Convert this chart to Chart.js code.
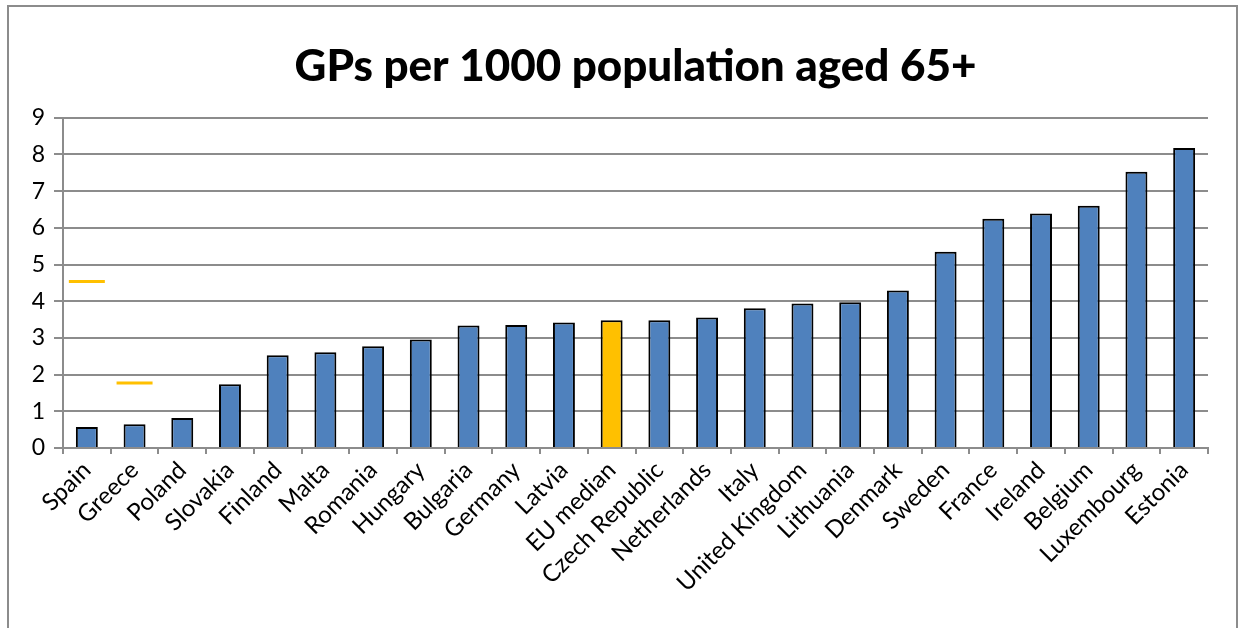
<!DOCTYPE html>
<html>
<head>
<meta charset="utf-8">
<script src="https://cdn.jsdelivr.net/npm/chart.js@4"></script>
<style>
  html, body { margin: 0; padding: 0; background: #fff; }
  #wrap { width: 1243px; height: 628px; position: relative; }
</style>
</head>
<body>
<div id="wrap"><canvas id="gp"></canvas></div>
<script>
/* GPs per 1000 population aged 65+ */
const countries = ['Spain', 'Greece', 'Poland', 'Slovakia', 'Finland', 'Malta', 'Romania', 'Hungary',
	'Bulgaria', 'Germany', 'Latvia', 'EU median', 'Czech Republic', 'Netherlands', 'Italy',
	'United Kingdom', 'Lithuania', 'Denmark', 'Sweden', 'France', 'Ireland', 'Belgium',
	'Luxembourg', 'Estonia'];
const gpValues = [0.57, 0.65, 0.82, 1.74, 2.53, 2.61, 2.77, 2.96, 3.34, 3.35, 3.42, 3.48,
	3.48, 3.56, 3.81, 3.94, 3.97, 4.29, 5.35, 6.25, 6.39, 6.6, 7.53, 8.18];
// extra markers shown for Spain and Greece only
const altValues = [4.54, 1.77, null, null, null, null, null, null, null, null, null, null,
	null, null, null, null, null, null, null, null, null, null, null, null];
const yTicks = [0, 1, 2, 3, 4, 5, 6, 7, 8, 9];

const blue = '#4F81BD';
const gold = '#FFC000';
var barColors = countries.map(function(c) { return c === 'EU median' ? gold : blue; });

// outer frame round the whole chart
const frame = {
	id: 'frame',
	afterDraw(chart) {
		var ctx = chart.ctx;
		ctx.save();
		ctx.strokeStyle = '#8c8c8c';
		ctx.lineWidth = 2;
		ctx.strokeRect(8, 6, 1229, 640);
		ctx.restore();
	}
};

var ctx = document.getElementById('gp');
new Chart(ctx, {
	type: 'bar',
	data: {
		labels: countries,
		datasets: [{
			type: 'line',
			data: altValues,
			showLine: false,
			pointStyle: 'line',
			pointRadius: 18,
			pointHoverRadius: 18,
			pointBorderWidth: 3,
			borderColor: gold,
			backgroundColor: gold,
			order: 0
		}, {
			data: gpValues,
			backgroundColor: barColors,
			borderColor: '#000',
			borderWidth: 2,
			barPercentage: 0.46,
			categoryPercentage: 1,
			order: 1
		}]
	},
	options: {
		responsive: true,
		maintainAspectRatio: false,
		animation: false,
		layout: { padding: { left: 18, right: 35, top: 0, bottom: 0 } },
		plugins: {
			legend: { display: false },
			tooltip: { enabled: false },
			title: {
				display: true,
				fullSize: false,
				text: 'GPs per 1000 population aged 65+',
				color: '#000',
				font: { family: 'Lato', size: 44, weight: '900' },
				padding: { top: 40, bottom: 25 }
			}
		},
		scales: {
			x: {
				offset: true,
				grid: {
					offset: true,
					drawOnChartArea: false,
					color: '#8c8c8c',
					lineWidth: 2,
					tickLength: 6
				},
				border: { color: '#8c8c8c', width: 2 },
				ticks: {
					color: '#000',
					font: { family: 'Lato', size: 24 },
					minRotation: 45,
					maxRotation: 45,
					autoSkip: false,
					padding: 2
				},
				afterFit(scale) { scale.height = 180; }
			},
			y: {
				min: 0,
				max: 9,
				afterBuildTicks(scale) {
					scale.ticks = yTicks.map(function(v) { return { value: v }; });
				},
				grid: { color: '#8c8c8c', lineWidth: 2, tickLength: 9 },
				border: { color: '#8c8c8c', width: 2 },
				ticks: {
					color: '#000',
					font: { family: 'Lato', size: 23 },
					padding: 9
				},
				afterFit(scale) { scale.width = 45; }
			}
		}
	},
	plugins: [frame]
});
</script>
</body>
</html>
